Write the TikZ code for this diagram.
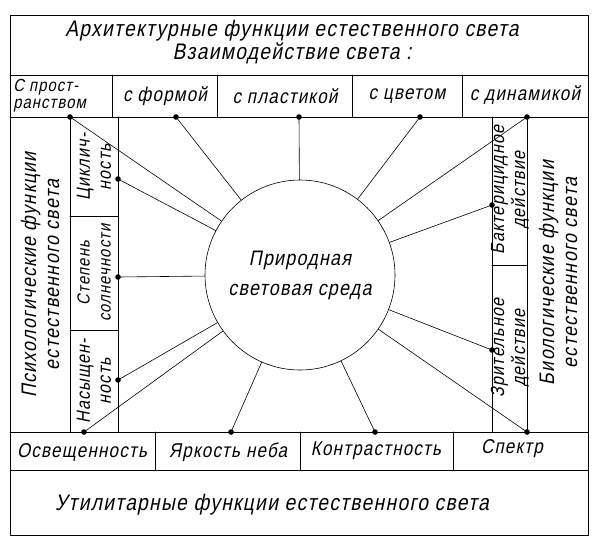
\documentclass[tikz,border=0pt]{standalone}
\usepackage{fontspec}
\setmainfont{Liberation Sans}[FakeSlant=0.2,FakeStretch=0.85,LetterSpace=6]
\begin{document}
\begin{tikzpicture}[x=1pt,y=-1pt,line join=round,line cap=round,semithick,
    txt/.style={font=\fontsize{20}{20}\selectfont,align=center,inner sep=0pt},
    bigtxt/.style={txt,font=\fontsize{22.5}{22}\selectfont},
    smalltxt/.style={txt,font=\fontsize{19}{21}\selectfont},
    vtxt/.style={txt,font=\fontsize{21}{23}\selectfont,rotate=90},
    vsmall/.style={smalltxt,rotate=90}]
  \useasboundingbox (0,0) rectangle (599,542);
  % frame and table
  \draw (10,15) rectangle (588,535);
  \draw (10,75)--(588,75) (10,117)--(588,117) (10,432)--(588,432) (10,470)--(588,470);
  \foreach \x in {112,217,352,462} \draw (\x,75)--(\x,117);
  \draw (70,117)--(70,432) (118,117)--(118,432) (70,216)--(118,216) (70,330)--(118,330);
  \draw (492,117)--(492,432) (527,117)--(527,432) (492,265)--(527,265);
  \foreach \x in {155,300,453} \draw (\x,432)--(\x,470);
  % centre
  \node[draw,circle,minimum size=190pt,txt,font=\fontsize{21}{30}\selectfont] (env) at (300,275) {Природная\\световая среда};
  \path
  (70,117) coordinate (dsp)
  (176,117) coordinate (dfo)
  (299,117) coordinate (dpl)
  (420,117) coordinate (dcv)
  (527,117) coordinate (ddy)
  (118,179) coordinate (dcy)
  (118,277) coordinate (dst)
  (118,380) coordinate (dna)
  (84,432) coordinate (dos)
  (231,432) coordinate (dya)
  (375,432) coordinate (dko)
  (527,432) coordinate (dsk)
  (492,205) coordinate (dba)
  (492,350) coordinate (dzr);
  \foreach \d in {dsp,dfo,dpl,dcv,ddy,dcy,dst,dna,dos,dya,dko,dsk,dba,dzr}
    {\draw (\d)--(env); \fill (\d) circle (2.8);}
  % labels
  \node[bigtxt] (arch) at (292,31) {Архитектурные функции естественного света};
  \node[bigtxt] (vzai) at (292,53) {Взаимодействие света :};
  \node[txt,font=\fontsize{17.5}{17}\selectfont,align=left,anchor=west] (spr) at (13,96) {С прост-\\ранством};
  \node[txt] (frm) at (165,96) {с формой};
  \node[txt] (pls) at (285,96) {с пластикой};
  \node[txt] (cvt) at (407,96) {с цветом};
  \node[txt] (dyn) at (525,95) {с динамикой};
  \node[vtxt] (psy) at (40,275) {Психологические функции\\естественного света};
  \node[vsmall] (cyc) at (94,167) {Циклич-\\ность};
  \node[vsmall,font=\fontsize{17.5}{21}\selectfont] (stp) at (94,273) {Степень\\солнечности};
  \node[vsmall] (nas) at (94,381) {Насыщен-\\ность};
  \node[vsmall] (bak) at (510,190) {Бактерицидное\\действие};
  \node[vsmall] (zri) at (510,348) {Зрительное\\действие};
  \node[vtxt] (bio) at (558,273) {Биологические функции\\естественного света};
  \node[txt] (osv) at (82,452) {Освещенность};
  \node[txt] (yar) at (228,452) {Яркость неба};
  \node[txt] (kon) at (376,451) {Контрастность};
  \node[txt] (spk) at (512,449) {Спектр};
  \node[bigtxt] (util) at (272,505) {Утилитарные функции естественного света};
\end{tikzpicture}
\end{document}
